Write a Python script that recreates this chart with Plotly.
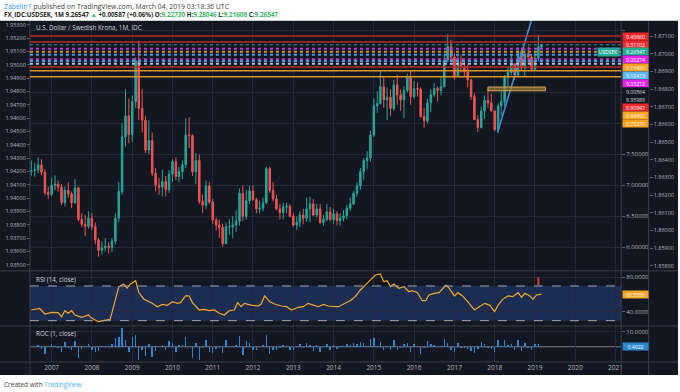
import plotly.graph_objects as go
import pandas as pd

W, H = 680, 392
def xp(px): return px / W
def yp(py): return 1 - py / H

# ---------------- data (monthly USD/SEK, Jul 2006 - Mar 2019) ----------------
first_open = 7.22
close = [
    7.24, 7.25, 7.33, 7.21, 6.88, 6.85,
    7.00, 7.02, 6.97, 6.72, 6.92, 6.86, 6.72, 6.96, 6.45, 6.37, 6.34, 6.47,
    6.33, 6.12, 5.95, 5.99, 6.02, 6.00, 6.10, 6.47, 6.90, 7.78, 8.12, 7.82,
    8.35, 9.01, 8.24, 8.05, 7.57, 7.72, 7.19, 7.00, 6.97, 7.06, 6.93, 7.18,
    7.38, 7.14, 7.22, 7.33, 7.81, 7.80, 7.22, 7.40, 6.74, 6.68, 6.99, 6.73,
    6.44, 6.36, 6.32, 6.06, 6.33, 6.33, 6.36, 6.42, 6.87, 6.50, 6.75, 6.91,
    6.77, 6.62, 6.63, 6.72, 7.27, 6.92, 6.78, 6.62, 6.56, 6.65, 6.66, 6.50,
    6.36, 6.40, 6.52, 6.47, 6.62, 6.70, 6.52, 6.62, 6.40, 6.45, 6.57, 6.45,
    6.54, 6.43, 6.47, 6.51, 6.63, 6.70, 6.87, 6.99, 7.22, 7.40, 7.44, 7.81,
    8.28, 8.32, 8.59, 8.38, 8.42, 8.24, 8.62, 8.46, 8.38, 8.53, 8.75, 8.43,
    8.56, 8.55, 8.11, 8.04, 8.33, 8.46, 8.56, 8.53, 8.59, 9.02, 9.24, 9.07,
    8.75, 8.98, 8.92, 8.83, 8.70, 8.43, 8.06, 7.93, 8.20, 8.37, 8.33, 8.20,
    7.90, 8.28, 8.35, 8.74, 8.82, 8.96, 8.78, 9.16, 8.89, 9.12, 9.07, 8.87,
    9.05, 9.22835, 9.26547,
]
high = [
    7.40, 7.36, 7.45, 7.42, 7.26, 6.98,
    7.12, 7.16, 7.08, 7.02, 6.98, 7.05, 6.90, 7.10, 6.98, 6.55, 6.52, 6.58,
    6.55, 6.40, 6.15, 6.10, 6.15, 6.08, 6.15, 6.55, 7.05, 8.00, 8.55, 8.40,
    8.45, 9.06, 9.33, 8.55, 8.12, 8.05, 7.85, 7.28, 7.12, 7.25, 7.15, 7.25,
    7.42, 7.45, 7.30, 7.40, 8.08, 8.10, 7.82, 7.52, 7.50, 6.85, 7.08, 7.05,
    6.78, 6.48, 6.45, 6.38, 6.40, 6.45, 6.50, 6.60, 6.95, 7.00, 6.92, 7.00,
    7.00, 6.80, 6.75, 6.80, 7.30, 7.30, 7.05, 6.85, 6.70, 6.72, 6.72, 6.70,
    6.55, 6.50, 6.58, 6.62, 6.80, 6.82, 6.78, 6.70, 6.70, 6.52, 6.70, 6.65,
    6.62, 6.58, 6.55, 6.60, 6.68, 6.80, 6.91, 7.05, 7.28, 7.44, 7.55, 7.88,
    8.40, 8.52, 8.85, 8.75, 8.58, 8.55, 8.70, 8.78, 8.55, 8.60, 8.80, 8.85,
    8.68, 8.66, 8.58, 8.25, 8.40, 8.55, 8.65, 8.60, 8.75, 9.10, 9.44, 9.35,
    9.12, 9.10, 9.10, 9.02, 8.95, 8.72, 8.48, 8.13, 8.27, 8.45, 8.55, 8.48,
    8.20, 8.32, 8.52, 8.78, 8.92, 9.10, 8.95, 9.23, 9.22, 9.20, 9.24, 9.12,
    9.15, 9.43, 9.28046,
]
low = [
    7.15, 7.14, 7.20, 7.16, 6.84, 6.78,
    6.82, 6.92, 6.90, 6.68, 6.66, 6.80, 6.63, 6.70, 6.42, 6.32, 6.18, 6.30,
    6.28, 6.05, 5.85, 5.88, 5.93, 5.90, 5.92, 6.05, 6.40, 6.85, 7.62, 7.68,
    7.70, 8.25, 8.05, 7.85, 7.52, 7.50, 7.15, 6.90, 6.85, 6.82, 6.82, 6.88,
    7.05, 7.08, 7.05, 7.10, 7.28, 7.60, 7.15, 7.02, 6.70, 6.55, 6.62, 6.70,
    6.38, 6.27, 6.15, 6.01, 6.05, 6.20, 6.15, 6.25, 6.35, 6.42, 6.45, 6.70,
    6.75, 6.55, 6.55, 6.58, 6.70, 6.88, 6.74, 6.60, 6.45, 6.45, 6.55, 6.48,
    6.33, 6.28, 6.33, 6.37, 6.41, 6.40, 6.50, 6.48, 6.38, 6.35, 6.42, 6.42,
    6.38, 6.35, 6.35, 6.42, 6.45, 6.58, 6.68, 6.82, 6.93, 7.09, 7.26, 7.38,
    7.78, 8.17, 8.30, 8.25, 8.05, 8.12, 8.20, 8.30, 8.20, 8.08, 8.50, 8.30,
    8.40, 8.43, 8.09, 7.93, 8.00, 8.18, 8.42, 8.35, 8.45, 8.58, 8.98, 9.00,
    8.70, 8.75, 8.82, 8.75, 8.58, 8.38, 8.06, 7.86, 7.92, 8.07, 8.25, 8.18,
    7.87, 7.84, 8.12, 8.28, 8.58, 8.78, 8.70, 8.74, 8.85, 8.75, 8.96, 8.86,
    8.85, 9.00, 9.21608,
]

rsi_dates = [
    "2006-07-01", "2006-09-15", "2006-11-01", "2007-01-01", "2007-03-01", "2007-04-01", "2007-05-01",
    "2007-06-01", "2007-07-01", "2007-08-01", "2007-10-01", "2007-12-01", "2008-01-01", "2008-03-01",
    "2008-04-15", "2008-06-15", "2008-07-15", "2008-09-01", "2008-10-15", "2008-11-15", "2008-12-15",
    "2009-02-01", "2009-03-01", "2009-04-15", "2009-05-15", "2009-07-01", "2009-08-15", "2009-10-01",
    "2009-11-15", "2010-01-01", "2010-02-15", "2010-03-15", "2010-05-01", "2010-06-01", "2010-07-01",
    "2010-09-01", "2010-10-15", "2010-12-01", "2011-01-15", "2011-03-01", "2011-04-15", "2011-06-01",
    "2011-07-15", "2011-08-15", "2011-09-15", "2011-10-15", "2011-12-15", "2012-02-15", "2012-03-15",
    "2012-04-15", "2012-06-01", "2012-07-15", "2012-09-15", "2012-11-01", "2012-12-15", "2013-02-15",
    "2013-04-01", "2013-05-15", "2013-07-01", "2013-08-15", "2013-10-01", "2013-11-15", "2014-01-15",
    "2014-02-15", "2014-04-15", "2014-06-01", "2014-07-15", "2014-09-01", "2014-10-15", "2014-12-01",
    "2015-01-15", "2015-03-01", "2015-04-01", "2015-05-01", "2015-06-01", "2015-07-01", "2015-08-15",
    "2015-10-01", "2015-11-15", "2015-12-15", "2016-02-01", "2016-03-15", "2016-04-15", "2016-05-15",
    "2016-07-01", "2016-08-15", "2016-10-15", "2016-11-15", "2017-01-01", "2017-02-01", "2017-03-15",
    "2017-05-01", "2017-07-01", "2017-08-15", "2017-10-01", "2017-11-15", "2018-01-01", "2018-02-01",
    "2018-03-15", "2018-05-01", "2018-06-15", "2018-08-01", "2018-09-01", "2018-10-01", "2018-11-15",
    "2018-12-15", "2019-01-15", "2019-03-01",
]
rsi_values = [
    42.3, 44.0, 37.7, 39.6, 39.2, 34.6, 41.5,
    38.5, 41.5, 36.5, 33.9, 36.5, 32.7, 28.8,
    30.0, 31.6, 46.0, 69.0, 72.3, 67.3, 72.3,
    76.0, 62.7, 55.0, 53.0, 50.0, 46.0, 48.8,
    47.7, 51.9, 50.0, 50.8, 58.8, 58.5, 50.8,
    42.3, 43.1, 41.5, 42.3, 38.5, 36.5, 41.5,
    42.3, 50.8, 46.1, 50.0, 48.0, 46.9, 49.2,
    58.5, 51.9, 49.2, 46.9, 46.1, 42.3, 45.4,
    46.1, 50.0, 48.0, 46.1, 48.8, 46.9, 46.1,
    46.1, 50.0, 53.0, 57.6, 65.4, 71.0, 77.0,
    82.7, 83.8, 75.0, 76.1, 69.2, 72.3, 67.3,
    69.2, 63.4, 64.6, 62.3, 53.0, 53.0, 59.6,
    61.5, 62.3, 71.0, 67.3, 58.5, 62.3, 58.5,
    51.9, 42.3, 46.1, 50.0, 48.0, 40.4, 48.0,
    54.6, 58.5, 57.7, 62.3, 57.0, 61.5, 58.5,
    54.6, 59.6, 60.5556,
]

level_prices = [9.40660, 9.31102, 9.20274, 9.15426, 9.10413, 9.03272, 9.00564, 8.95989, 8.90947, 8.84692, 8.75270]
level_kinds = ["red", "red", "magenta", "orange", "blue", "magenta", "blue", "white", "red", "orange", "orange"]
level_boxed = [True, True, True, True, True, True, False, False, True, True, True]

trend_x = ["2018-01-28", "2018-12-02"]
trend_y = [7.86, 9.67]
zone_x = ["2017-11-01", "2019-04-07"]
zone_y = [8.525, 8.585]
rsi_mark_x = "2019-02-01"
rsi_mark_y = [71, 80]

price_ticks = [6.0, 6.5, 7.0, 7.5, 8.0, 8.5, 9.0, 9.5]
left_ticks = [round(1.935 + 0.001 * i, 3) for i in range(19)]
outer_ticks = [round(1.858 + 0.001 * i, 3) for i in range(14)]

# ---------------- geometry / styling ----------------
BG = "#131722"
GRID = "#252935"
SEP = "#3a3e4a"
TXT = "#b2b5be"
UP, DN = "#26a69a", "#ef5350"
FONT = "Open Sans"

PL, PR = 30, 623
MAIN_T, MAIN_B = 20, 270.5
RSI_T, RSI_B = 271, 325.7
ROC_T, ROC_B = 326.2, 362
price_range = [5.6258, 9.6661]
left_range = [1.934571, 1.953368]
outer_range = [1.857728, 1.871906]
rsi_range = [24.2, 87.26]
roc_range = [-10.2, 13.8]
x_range = ["2006-06-18", "2021-02-21"]
LABEL_STEP = 7.95

months = pd.date_range("2006-07-01", periods=len(close), freq="MS")
opens = [first_open] + close[:-1]
high = [max(h, o, c) for h, o, c in zip(high, opens, close)]
low = [min(l, o, c) for l, o, c in zip(low, opens, close)]
roc = [None] + [(c / p - 1) * 100 for p, c in zip(close[:-1], close[1:])]

def price_px(p):
    return MAIN_T + (price_range[1] - p) / (price_range[1] - price_range[0]) * (MAIN_B - MAIN_T)

# stacked price-scale labels (computed first so covered axis ticks can be blanked)
box_col = {"red": "#f0272d", "magenta": "#e024e6", "orange": "#f9a11b", "blue": "#5fb6ef", "white": BG}
labels = [(p, box_col[k], b) for p, k, b in zip(level_prices, level_kinds, level_boxed)]
labels.append((close[-1], "#22ab94", True))
labels.sort(key=lambda t: -t[0])
placed = []
prev = None
for p, col, boxed in labels:
    py = price_px(p)
    if prev is not None:
        py = max(py, prev + LABEL_STEP)
    prev = py
    placed.append((p, col, boxed, py))
covered = lambda v: any(abs(price_px(v) - q[3]) < LABEL_STEP for q in placed)
price_text = ["" if covered(v) else f"{v:.5f}" for v in price_ticks]

fig = go.Figure()
fig.add_trace(go.Candlestick(
    x=months, open=opens, high=high, low=low, close=close,
    increasing=dict(line=dict(color=UP, width=1), fillcolor=UP),
    decreasing=dict(line=dict(color=DN, width=1), fillcolor=DN),
    whiskerwidth=0, xaxis="x", yaxis="y", hoverinfo="skip", showlegend=False))
fig.add_trace(go.Scatter(x=trend_x, y=trend_y, mode="lines", line=dict(color="#3d8fd6", width=1.6),
                         xaxis="x", yaxis="y", hoverinfo="skip", showlegend=False))
# invisible anchors so the decorative side scales render
fig.add_trace(go.Scatter(x=[months[0]], y=[left_ticks[5]], mode="markers", marker=dict(opacity=0),
                         xaxis="x", yaxis="y4", hoverinfo="skip", showlegend=False))
fig.add_trace(go.Scatter(x=[months[0]], y=[outer_ticks[5]], mode="markers", marker=dict(opacity=0),
                         xaxis="x", yaxis="y5", hoverinfo="skip", showlegend=False))
fig.add_trace(go.Scatter(x=rsi_dates, y=rsi_values, mode="lines", line=dict(color="#f5a623", width=1.2),
                         xaxis="x2", yaxis="y2", hoverinfo="skip", showlegend=False))
fig.add_trace(go.Bar(x=months, y=roc, marker=dict(color="#2b86d0", line=dict(width=0)),
                     width=13 * 86400000, xaxis="x3", yaxis="y3", hoverinfo="skip", showlegend=False))

xcommon = dict(range=x_range, type="date", showgrid=True, gridcolor=GRID, gridwidth=1,
               dtick="M12", tick0="2007-01-01", zeroline=False, showline=False,
               domain=[xp(PL), xp(PR)])
ycommon = dict(showgrid=True, gridcolor=GRID, zeroline=False, showline=False,
               tickfont=dict(size=6, color=TXT, family=FONT), ticks="outside", ticklen=3,
               tickcolor="#5d606b", side="right")

fig.update_layout(
    width=W, height=H, margin=dict(l=0, r=0, t=0, b=0),
    paper_bgcolor="white", plot_bgcolor=BG, showlegend=False,
    font=dict(family=FONT, color=TXT),
    xaxis=dict(xcommon, anchor="y", showticklabels=False, rangeslider=dict(visible=False)),
    xaxis2=dict(xcommon, anchor="y2", matches="x", showticklabels=False),
    xaxis3=dict(xcommon, anchor="y3", matches="x", showticklabels=True,
                tickformat="%Y", tickfont=dict(size=6.5, color=TXT, family=FONT), ticks=""),
    yaxis=dict(ycommon, domain=[yp(MAIN_B), yp(MAIN_T)], range=price_range, anchor="x",
               tickvals=price_ticks, ticktext=price_text),
    yaxis4=dict(overlaying="y", anchor="free", position=xp(PL), side="left", range=left_range,
                tickvals=left_ticks, ticktext=[f"{v:.5f}" for v in left_ticks], showgrid=False,
                zeroline=False, showline=False, ticks="outside", ticklen=3, tickcolor="#5d606b",
                tickfont=dict(size=5.5, color=TXT, family=FONT)),
    yaxis5=dict(overlaying="y", anchor="free", position=xp(650.5), side="right", range=outer_range,
                tickvals=outer_ticks, ticktext=[f"{v:.5f}" for v in outer_ticks], showgrid=False,
                zeroline=False, showline=False, ticks="outside", ticklen=3, tickcolor="#5d606b",
                tickfont=dict(size=5.5, color=TXT, family=FONT)),
    yaxis2=dict(ycommon, domain=[yp(RSI_B), yp(RSI_T)], range=rsi_range, anchor="x2",
                tickvals=[40, 80], ticktext=["40.0000", "80.0000"]),
    yaxis3=dict(ycommon, domain=[yp(ROC_B), yp(ROC_T)], range=roc_range, anchor="x3",
                tickvals=[10], ticktext=["10.0000"]),
    bargap=0,
)

shapes = []
shapes.append(dict(type="rect", xref="paper", yref="paper", x0=0, x1=1, y0=yp(375), y1=yp(20),
                   fillcolor=BG, line=dict(width=0), layer="below"))
for xx in (PL, PR, 650.5):
    shapes.append(dict(type="line", xref="paper", yref="paper", x0=xp(xx), x1=xp(xx), y0=yp(375), y1=yp(20),
                       line=dict(color=SEP, width=1), layer="above"))
for yy in (20.5, 270.8, 326, 362):
    shapes.append(dict(type="line", xref="paper", yref="paper", x0=0, x1=1, y0=yp(yy), y1=yp(yy),
                       line=dict(color=SEP if yy > 21 else "#c9cbd1", width=1), layer="above"))

line_col = {"red": "#b8282e", "magenta": "#b63bd6", "orange": "#d9922a", "blue": "#4c9fdc", "white": "#aac8e6"}
for p, k in zip(level_prices, level_kinds):
    solid = k in ("red", "orange") and p != 9.15426
    shapes.append(dict(type="line", xref="x domain", yref="y", x0=0, x1=1, y0=p, y1=p,
                       line=dict(color=line_col[k], width=1.5 if solid else 2, dash="solid" if solid else "dot")))
shapes.append(dict(type="line", xref="x domain", yref="y", x0=0, x1=1, y0=close[-1], y1=close[-1],
                   line=dict(color="#26a69a", width=1, dash="dot")))
shapes.append(dict(type="rect", xref="x", yref="y", x0=zone_x[0], x1=zone_x[1], y0=zone_y[0], y1=zone_y[1],
                   fillcolor="rgba(150,120,55,0.75)", line=dict(color="#d4a84b", width=1)))
shapes.append(dict(type="rect", xref="x2 domain", yref="y2", x0=0, x1=1, y0=30, y1=70,
                   fillcolor="rgba(45,85,175,0.35)", line=dict(width=0), layer="below"))
for lv in (30, 70):
    shapes.append(dict(type="line", xref="x2 domain", yref="y2", x0=0, x1=1, y0=lv, y1=lv,
                       line=dict(color="#a3a6af", width=1, dash="dash")))
shapes.append(dict(type="line", xref="x2", yref="y2", x0=rsi_mark_x, x1=rsi_mark_x,
                   y0=rsi_mark_y[0], y1=rsi_mark_y[1], line=dict(color="#e53935", width=2)))
shapes.append(dict(type="line", xref="x3 domain", yref="y3", x0=0, x1=1, y0=0, y1=0,
                   line=dict(color="#787b86", width=1), layer="below"))
fig.update_layout(shapes=shapes)

ann = []
def A(text, x, y, **kw):
    d = dict(text=text, x=x, y=y, xref="paper", yref="paper", showarrow=False,
             xanchor="left", yanchor="middle", font=dict(family=FONT, size=6, color=TXT))
    d.update(kw)
    ann.append(d)

A('<span style="color:#2196f3">Zabelin1</span> published on TradingView.com, March 04, 2019 03:18:36 UTC',
  xp(2), yp(6.5), font=dict(family=FONT, size=6.9, color="#3c3c3c"))
G = "#2eb85c"
A(f'<b>FX_IDC:USDSEK, 1M 9.26547 <span style="color:{G}">▲</span> +0.00587 (+0.06%) '
  f'O:<span style="color:{G}">9.22730</span> H:<span style="color:{G}">9.28046</span> '
  f'L:<span style="color:{G}">9.21608</span> C:<span style="color:{G}">9.26547</span></b>',
  xp(2), yp(14.5), font=dict(family=FONT, size=6.3, color="#222222"))
A("U.S. Dollar / Swedish Krona, 1M, IDC", xp(34), yp(27.5), font=dict(family=FONT, size=6.3, color="#d1d4dc"))
A("RSI (14, close)", xp(34), yp(279), font=dict(family=FONT, size=6.3, color="#d1d4dc"))
A("ROC (1, close)", xp(34), yp(333), font=dict(family=FONT, size=6.3, color="#d1d4dc"))
A('Created with <span style="color:#3bb4f2">TradingView</span>', xp(2), yp(384),
  font=dict(family=FONT, size=6.5, color="#3c3c3c"))

for p, col, boxed, py in placed:
    A(f"{p:.5f}", xp(623.8), yp(py), bgcolor=col if boxed else BG, width=25, height=7, borderpad=0,
      align="center", font=dict(family=FONT, size=5.2, color="white" if boxed else "#d1d4dc"))
    if p == close[-1]:
        A("USDSEK", xp(622), yp(py), xanchor="right", bgcolor="#22ab94", height=7, borderpad=0.5,
          font=dict(family=FONT, size=5.0, color="white"))

A(f"{rsi_values[-1]:.4f}", xp(623.8), rsi_values[-1], yref="y2", bgcolor="#f5a623", width=25, height=7,
  borderpad=0, align="center", font=dict(family=FONT, size=5.2, color="white"))
A(f"{roc[-1]:.4f}", xp(623.8), roc[-1], yref="y3", bgcolor="#2b86d0", width=25, height=7,
  borderpad=0, align="center", font=dict(family=FONT, size=5.2, color="white"))

fig.update_layout(annotations=ann)
fig.write_html("out.html", config={"displayModeBar": False, "staticPlot": True},
               post_script="document.body.style.margin='0px';document.body.style.overflow='hidden';")
